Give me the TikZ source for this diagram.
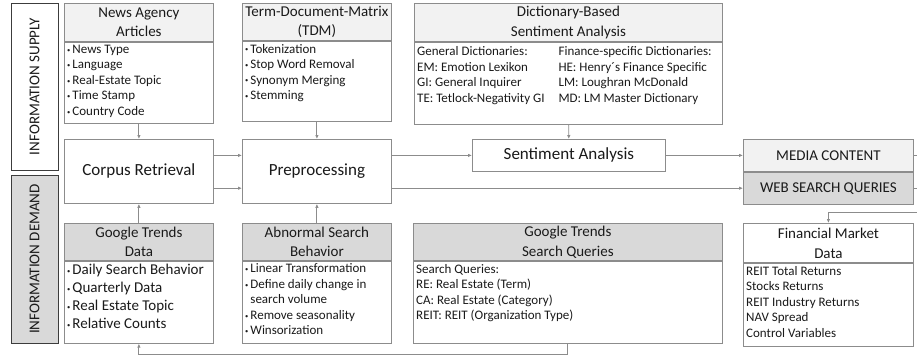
\documentclass[tikz,border=0pt]{standalone}
\usepackage{fontspec}
\setmainfont{Carlito}
\usetikzlibrary{arrows.meta,positioning}
\definecolor{frame}{HTML}{8C8C8C}
\definecolor{headlight}{HTML}{F2F2F2}
\definecolor{headdark}{HTML}{D9D9D9}
\definecolor{ink}{HTML}{1A1A1A}
% small raised bullet for the lists
\newcommand{\itm}{\raisebox{1.2pt}{\fontsize{6.5}{6.5}\selectfont\textbullet}\hspace{2pt}}

\begin{document}
\begin{tikzpicture}[x=1pt, y=1pt, >={Latex[length=4pt,width=3.5pt]}, node distance=0pt,
  every node/.style={text=ink},
  side/.style={draw=ink!85, line width=0.9pt, rotate=90, minimum height=47pt, font=\fontsize{15}{18}\selectfont},
  head/.style={draw=frame, line width=0.8pt, anchor=north west, align=center, inner sep=1pt, font=\fontsize{15}{19}\selectfont},
  body/.style={draw=frame, line width=0.8pt, fill=white, inner sep=0pt},
  box/.style={draw=frame, line width=0.8pt, fill=white, anchor=north west, font=\fontsize{17}{20}\selectfont},
  items/.style={anchor=north west, align=left, inner sep=3pt, font=\fontsize{13}{15.5}\selectfont},
  e/.style={->, draw=frame, line width=0.9pt},
  l/.style={draw=frame, line width=0.9pt}]
\useasboundingbox (0,0) rectangle (917,-354);

% side bars
\node[side, fill=white, minimum width=167pt] (supply) at (34.5,-86.5) {INFORMATION SUPPLY};
\node[side, fill=headdark, minimum width=168pt] (demand) at (34.5,-259) {INFORMATION DEMAND};

% input boxes, top row
\node[head, fill=headlight, minimum width=149pt, minimum height=38pt] (newsh) at (64,-3) {News Agency\\ Articles};
\node[body, minimum width=149pt, minimum height=81pt, below=of newsh,
  label={[items]north west:{\itm News Type\\ \itm Language\\ \itm Real-Estate Topic\\ \itm Time Stamp\\ \itm Country Code}}] (newsb) {};
\node[head, fill=headlight, minimum width=149pt, minimum height=37pt] (tdmh) at (242,-3) {Term-Document-Matrix\\ (TDM)};
\node[body, minimum width=149pt, minimum height=80pt, below=of tdmh,
  label={[items]north west:{\itm Tokenization\\ \itm Stop Word Removal\\ \itm Synonym Merging\\ \itm Stemming}}] (tdmb) {};
\node[head, fill=headlight, minimum width=308pt, minimum height=38pt, font=\fontsize{15}{20}\selectfont] (dicth) at (414,-3) {Dictionary-Based\\ Sentiment Analysis};
\node[body, minimum width=308pt, minimum height=82pt, below=of dicth,
  label={[items]north west:{\begin{tabular}{@{}l@{\hspace{14pt}}l@{}}
    General Dictionaries: & Finance-specific Dictionaries:\\
    EM: Emotion Lexikon & HE: Henry´s Finance Specific\\
    GI: General Inquirer & LM: Loughran McDonald\\
    TE: Tetlock-Negativity GI & MD: LM Master Dictionary
  \end{tabular}}}] (dictb) {};

% processing steps
\node[box, minimum width=149pt, minimum height=64pt] (corpus) at (64,-139) {Corpus Retrieval};
\node[box, minimum width=149pt, minimum height=64pt] (prep) at (242,-139) {Preprocessing};
\node[box, minimum width=193pt, minimum height=32pt] (sent) at (472,-139) {Sentiment Analysis};

% outputs
\node[box, fill=headlight, minimum width=170pt, minimum height=32pt, font=\fontsize{15}{18}\selectfont] (media) at (743,-139) {MEDIA CONTENT};
\node[box, fill=headdark, minimum width=170pt, minimum height=32pt, font=\fontsize{15}{18}\selectfont, anchor=north, below=of media] (web) {WEB SEARCH QUERIES};

% input boxes, bottom row
\node[head, fill=headdark, minimum width=149pt, minimum height=37pt] (gtdh) at (64,-223) {Google Trends\\ Data};
\node[body, minimum width=149pt, minimum height=82pt, below=of gtdh,
  label={[items, font=\fontsize{15}{18}\selectfont]north west:{\itm Daily Search Behavior\\ \itm Quarterly Data\\ \itm Real Estate Topic\\ \itm Relative Counts}}] (gtdb) {};
\node[head, fill=headdark, minimum width=149pt, minimum height=37pt] (abnh) at (242,-223) {Abnormal Search\\ Behavior};
\node[body, minimum width=149pt, minimum height=82pt, below=of abnh,
  label={[items]north west:{\itm Linear Transformation\\ \itm Define daily change in\\ \phantom{\itm}search volume\\ \itm Remove seasonality\\ \itm Winsorization}}] (abnb) {};
\node[head, fill=headdark, minimum width=309pt, minimum height=37pt, font=\fontsize{15}{20}\selectfont] (gtsqh) at (413,-223) {Google Trends\\ Search Queries};
\node[body, minimum width=309pt, minimum height=82pt, below=of gtsqh,
  label={[items]north west:{Search Queries:\\ RE: Real Estate (Term)\\ CA: Real Estate (Category)\\ REIT: REIT (Organization Type)}}] (gtsqb) {};
\node[head, fill=white, minimum width=170pt, minimum height=39pt, font=\fontsize{15}{20}\selectfont] (finh) at (743,-223) {Financial Market\\ Data};
\node[body, minimum width=170pt, minimum height=83pt, below=of finh,
  label={[items]north west:{REIT Total Returns\\ Stocks Returns\\ REIT Industry Returns\\ NAV Spread\\ Control Variables}}] (finb) {};

\coordinate (edge) at (917,0);
\coordinate (ret) at (917,-212);

% connectors
\draw[e] (newsb) -- (corpus);
\draw[e] (tdmb) -- (prep);
\draw[e] (dictb) -- (sent);
\draw[e] (gtdh) -- (corpus);
\draw[e] (abnh) -- (prep);
\draw[e] (corpus.east |- sent) -- (prep.west |- sent);
\draw[e] (corpus.east |- web) -- (prep.west |- web);
\draw[e] (prep.east |- sent) -- (sent);
\draw[e] (sent) -- (media);
\draw[e] (prep.east |- web) -- (web);
\draw[l] (media.east) -- (media.east -| edge);
\draw[l] (web.east) -- (web.east -| edge);
\draw[e] (ret) -| (finh);
\draw[e] (gtsqb.south) -- ++(0,-11) -| (gtdb.south);
\end{tikzpicture}
\end{document}
